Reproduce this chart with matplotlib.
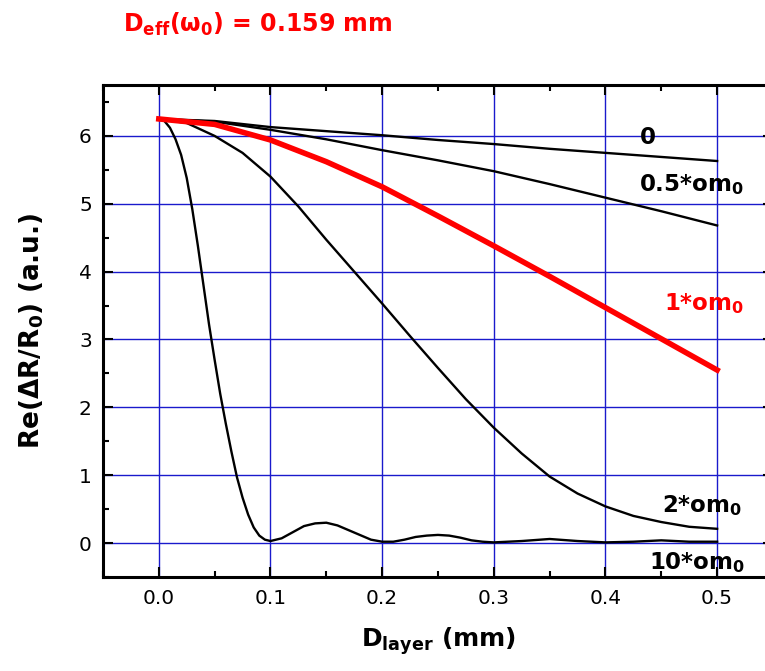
import numpy as np
import matplotlib
matplotlib.use("Agg")
import matplotlib.pyplot as plt
from matplotlib.ticker import MultipleLocator

plt.rcParams['font.family'] = ['DejaVu Sans']
plt.rcParams['mathtext.fontset'] = 'dejavusans'
plt.rcParams['mathtext.default'] = 'bf'

# frequency 0 and 0.5*om0 and 1*om0 (coarse grid)
x_coarse = [0.0, 0.05, 0.1, 0.15, 0.2, 0.25, 0.3, 0.35, 0.4, 0.45, 0.5]
y_om_0 = [6.25, 6.22, 6.13, 6.07, 6.01, 5.94, 5.88, 5.81, 5.75, 5.69, 5.63]
y_om_05 = [6.25, 6.21, 6.09, 5.95, 5.79, 5.64, 5.48, 5.29, 5.09, 4.89, 4.68]
y_om_1 = [6.25, 6.17, 5.94, 5.62, 5.25, 4.82, 4.38, 3.93, 3.47, 3.01, 2.55]

# 2*om0
x_om_2 = [0.0, 0.025, 0.05, 0.075, 0.1, 0.125, 0.15, 0.175, 0.2, 0.225, 0.25,
          0.275, 0.3, 0.325, 0.35, 0.375, 0.4, 0.425, 0.45, 0.475, 0.5]
y_om_2 = [6.25, 6.19, 6.0, 5.75, 5.4, 4.96, 4.47, 4.0, 3.53, 3.05, 2.58,
          2.12, 1.70, 1.32, 0.98, 0.73, 0.54, 0.40, 0.31, 0.24, 0.21]

# 10*om0
x_om_10 = [0.0, 0.005, 0.01, 0.015, 0.02, 0.025, 0.03, 0.035, 0.04, 0.045, 0.05,
           0.055, 0.06, 0.065, 0.07, 0.075, 0.08, 0.085, 0.09, 0.095, 0.1,
           0.11, 0.12, 0.13, 0.14, 0.15, 0.16, 0.17, 0.18, 0.19, 0.2,
           0.21, 0.22, 0.23, 0.24, 0.25, 0.26, 0.27, 0.28, 0.29, 0.3,
           0.325, 0.35, 0.375, 0.4, 0.425, 0.45, 0.475, 0.5]
y_om_10 = [6.25, 6.22, 6.12, 5.95, 5.72, 5.38, 4.92, 4.38, 3.8, 3.22, 2.7,
           2.2, 1.76, 1.35, 0.97, 0.67, 0.42, 0.23, 0.11, 0.05, 0.03,
           0.07, 0.16, 0.25, 0.29, 0.30, 0.26, 0.19, 0.12, 0.05, 0.02,
           0.02, 0.05, 0.09, 0.11, 0.12, 0.11, 0.08, 0.04, 0.02, 0.01,
           0.03, 0.06, 0.03, 0.01, 0.02, 0.04, 0.02, 0.02]

labels = ['0', '0.5*om$_0$', '1*om$_0$', '2*om$_0$', '10*om$_0$']

fig = plt.figure(figsize=(7.65, 6.71), dpi=100)
ax = fig.add_axes([0.1346, 0.1401, 0.8758, 0.7332])

# grid
ax.grid(True, which='major', color='#1a1acc', linewidth=1.0)
ax.set_axisbelow(True)

ax.plot(x_coarse, y_om_0, color='black', lw=1.7)
ax.plot(x_coarse, y_om_05, color='black', lw=1.7)
ax.plot(x_om_2, y_om_2, color='black', lw=1.7)
ax.plot(x_om_10, y_om_10, color='black', lw=1.7)
ax.plot(x_coarse, y_om_1, color='#ff0000', lw=4.0)

ax.set_xlim(-0.05, 0.55)
ax.set_ylim(-0.5, 6.75)
ax.xaxis.set_major_locator(MultipleLocator(0.1))
ax.xaxis.set_minor_locator(MultipleLocator(0.05))
ax.yaxis.set_major_locator(MultipleLocator(1))
ax.yaxis.set_minor_locator(MultipleLocator(0.5))
ax.set_xticks([0.0, 0.1, 0.2, 0.3, 0.4, 0.5])
ax.set_xticklabels(['0.0', '0.1', '0.2', '0.3', '0.4', '0.5'])
ax.tick_params(which='both', direction='in', top=True, right=True, width=1.5,
               labelsize=14.5, colors='black')
ax.tick_params(which='major', length=7)
ax.tick_params(which='minor', length=4)
ax.tick_params(axis='x', which='major', pad=9)
ax.tick_params(axis='y', which='major', pad=8)
for s in ax.spines.values():
    s.set_linewidth(2.2)

# curve labels
ax.text(0.438, 5.98, labels[0], fontsize=16.5, fontweight='bold', ha='center', va='center')
ax.text(0.43, 5.28, labels[1], fontsize=16.5, fontweight='bold', ha='left', va='center')
ax.text(0.452, 3.53, labels[2], fontsize=16.5, fontweight='bold', ha='left', va='center',
        color='#ff0000')
ax.text(0.451, 0.56, labels[3], fontsize=16.5, fontweight='bold', ha='left', va='center')
ax.text(0.439, -0.28, labels[4], fontsize=16.5, fontweight='bold', ha='left', va='center')

ax.set_xlabel('D$_{layer}$ (mm)', fontsize=18, fontweight='bold', labelpad=12)
ax.set_ylabel(r'Re($\Delta$R/R$_0$) (a.u.)', fontsize=19, fontweight='bold', labelpad=24)

fig.text(0.161, 0.963, r'D$_{eff}$($\omega_0$) = 0.159 mm', color='#ff0000',
         fontsize=17, fontweight='bold', ha='left', va='center')

fig.savefig('out.png', dpi=100)
